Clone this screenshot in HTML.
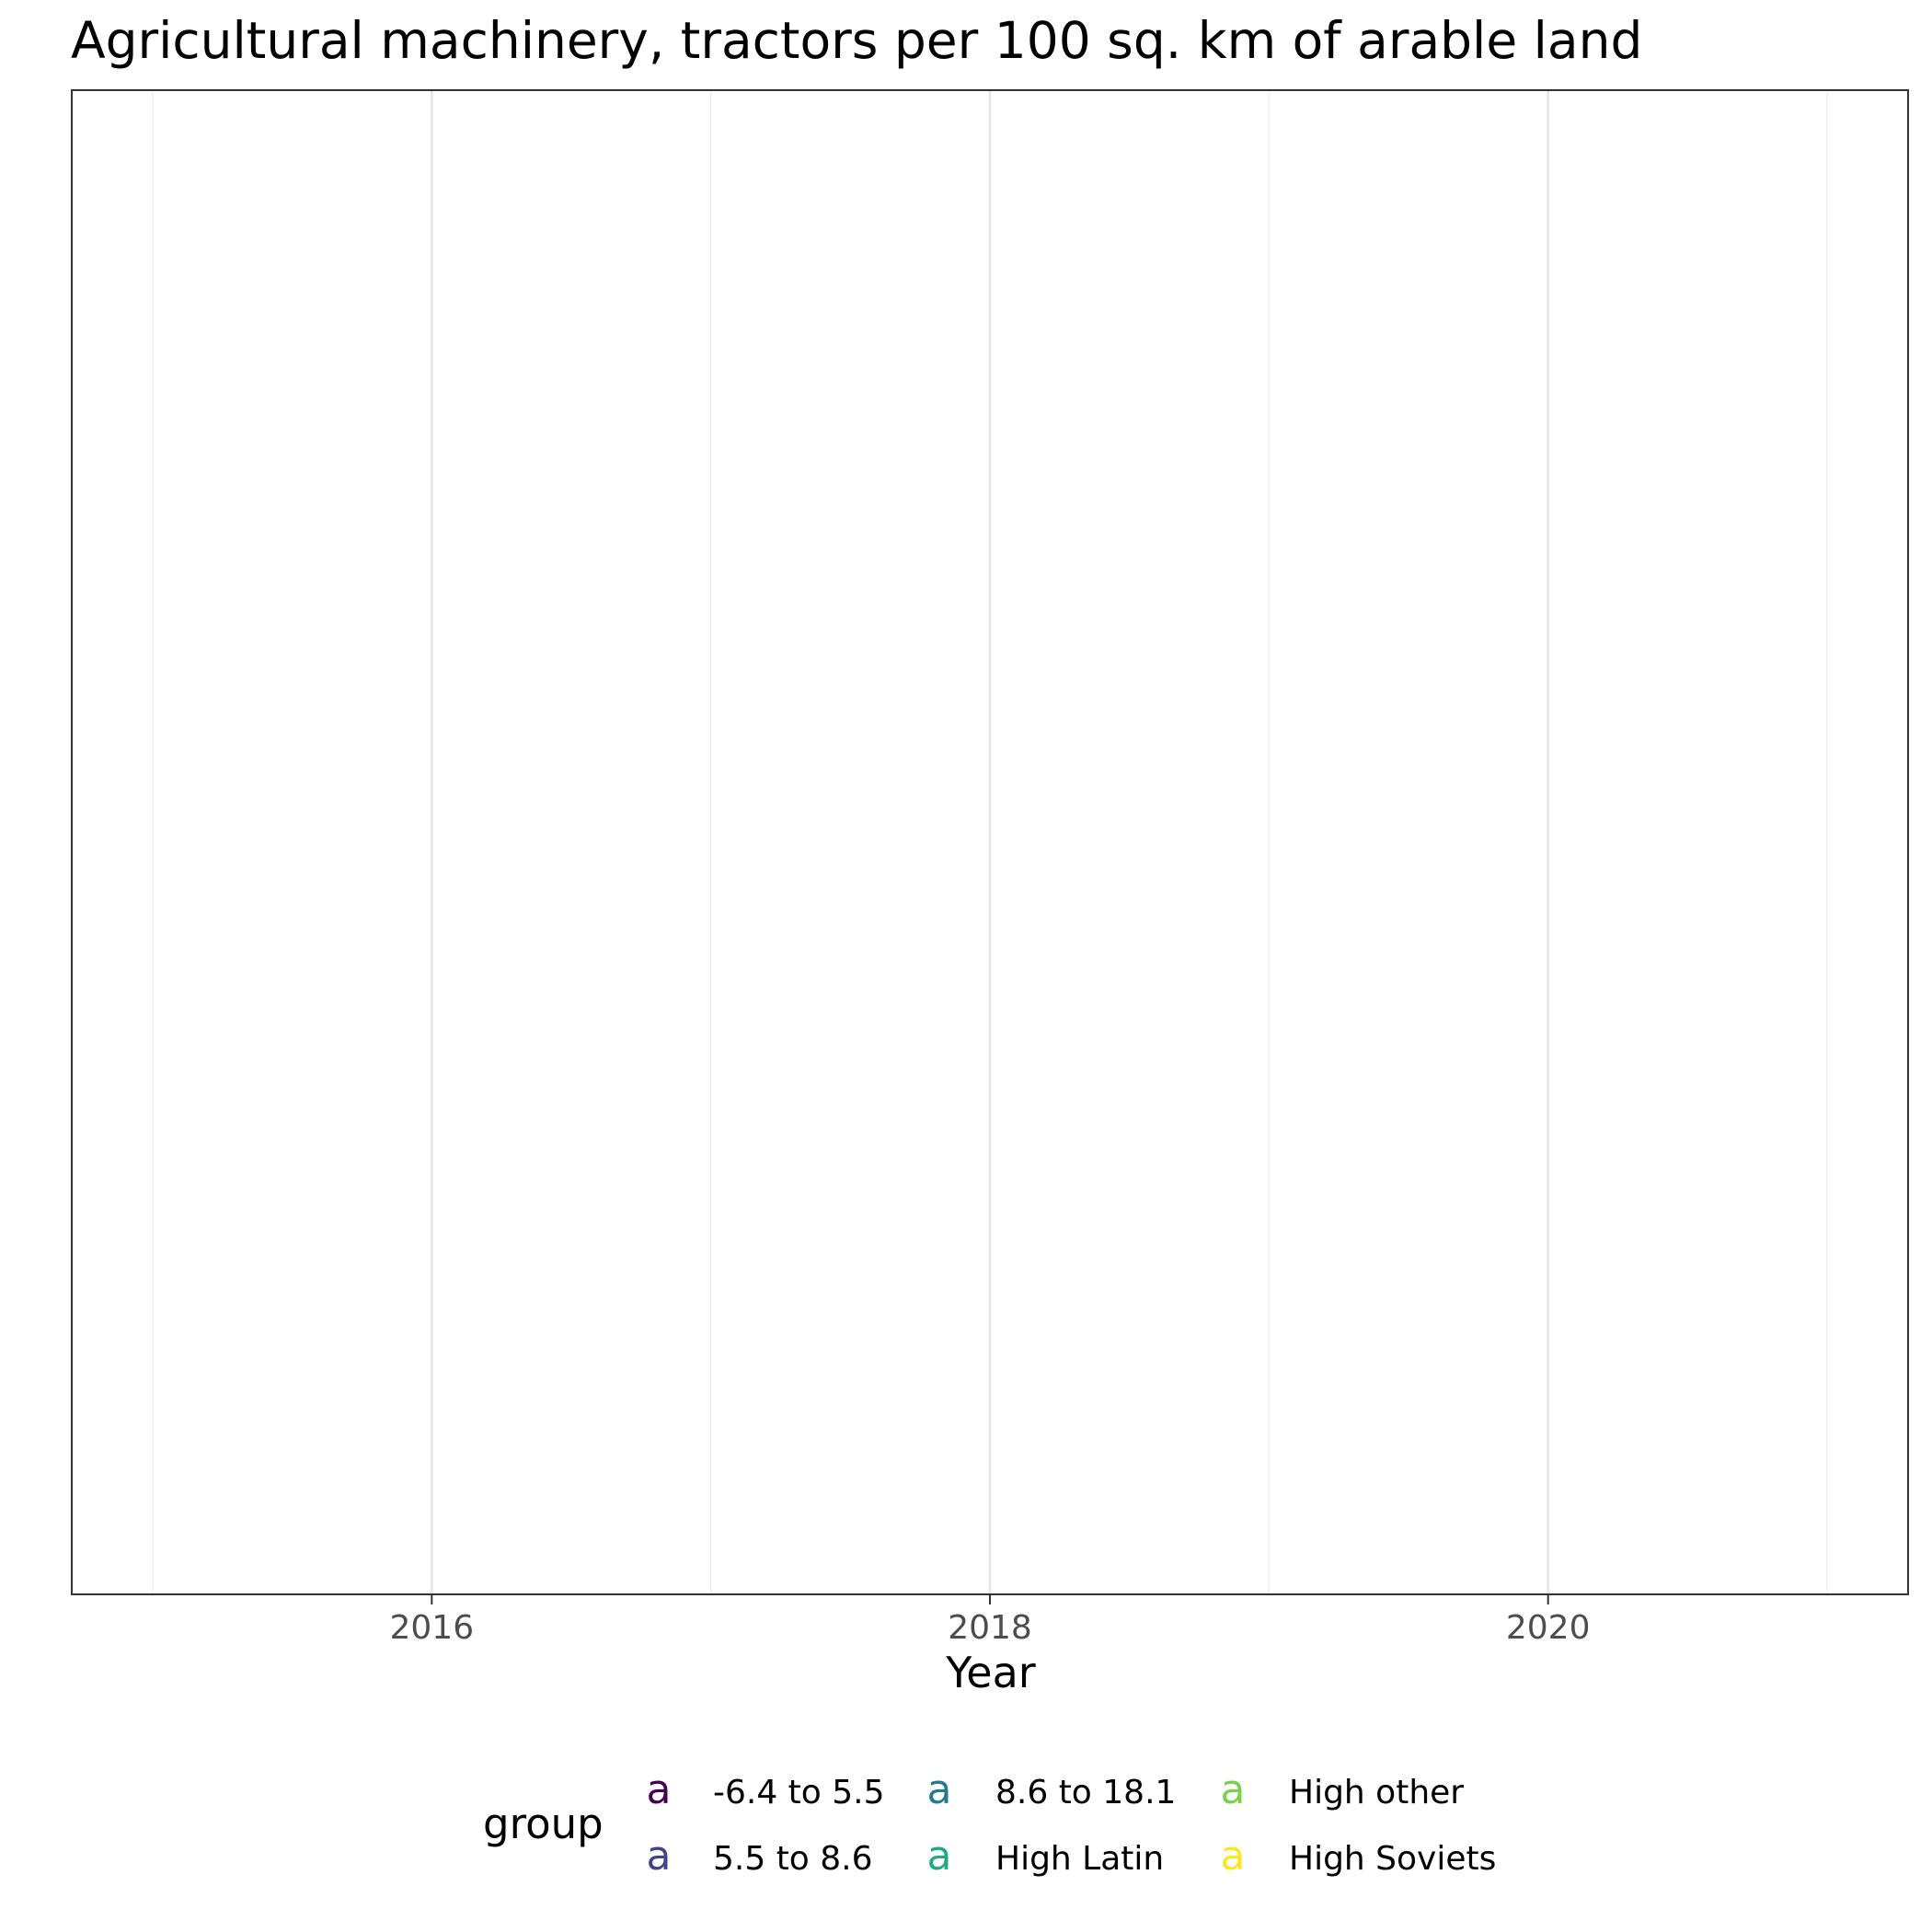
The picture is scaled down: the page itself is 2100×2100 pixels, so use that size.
<!DOCTYPE html>
<html><head><meta charset="utf-8"><style>
html,body{margin:0;padding:0;background:#fff;}
svg{display:block;font-family:"DejaVu Sans","Liberation Sans",sans-serif;}
</style></head><body>
<svg id="chart" width="2100" height="2100">
<text x="77" y="63" font-size="55" fill="#000">Agricultural machinery, tractors per 100 sq. km of arable land</text>
<rect x="78" y="98" width="1996" height="1635" fill="#fff"/>
<g id="grid"></g>
<g id="xaxis"></g>
<rect x="78" y="98" width="1996" height="1635" fill="none" stroke="#333" stroke-width="2"/>
<text x="1077" y="1834" font-size="46" text-anchor="middle" fill="#000">Year</text>
<text x="525" y="1998" font-size="45" fill="#000">group</text>
<g id="legend"></g>
</svg>
<script>
const majorYears = [2016, 2018, 2020];
const minorYears = [2015, 2017, 2019, 2021];
const tickLabels = ["2016", "2018", "2020"];
const groups = ["-6.4 to 5.5", "5.5 to 8.6", "8.6 to 18.1", "High Latin", "High other", "High Soviets"];
const groupColors = ["#440154", "#414487", "#2A788E", "#22A884", "#7AD151", "#FDE725"];

const NS = "http://www.w3.org/2000/svg";
const x0 = 78, x1 = 2074, yTop = 98, yBot = 1733;
const dMin = 2014.71, dMax = 2021.29;
function xScale(v){ return x0 + (v - dMin) / (dMax - dMin) * (x1 - x0); }

const grid = document.getElementById('grid');
minorYears.forEach(y => {
  const l = document.createElementNS(NS, 'line');
  l.setAttribute('x1', xScale(y)); l.setAttribute('x2', xScale(y));
  l.setAttribute('y1', yTop); l.setAttribute('y2', yBot);
  l.setAttribute('stroke', '#f0f0f0'); l.setAttribute('stroke-width', '1.5');
  
  
  grid.appendChild(l);
});
majorYears.forEach(y => {
  const l = document.createElementNS(NS, 'line');
  l.setAttribute('x1', xScale(y)); l.setAttribute('x2', xScale(y));
  l.setAttribute('y1', yTop); l.setAttribute('y2', yBot);
  l.setAttribute('stroke', '#e6e6e6'); l.setAttribute('stroke-width', '2.7');
  
  
  grid.appendChild(l);
});
const xa = document.getElementById('xaxis');
majorYears.forEach((y, i) => {
  const t = document.createElementNS(NS, 'line');
  t.setAttribute('x1', xScale(y)); t.setAttribute('x2', xScale(y));
  t.setAttribute('y1', yBot); t.setAttribute('y2', yBot + 11);
  t.setAttribute('stroke', '#333'); t.setAttribute('stroke-width', '2');
  
  
  xa.appendChild(t);
  const tx = document.createElementNS(NS, 'text');
  tx.setAttribute('x', xScale(y)); tx.setAttribute('y', 1781);
  tx.setAttribute('font-size', '36'); tx.setAttribute('text-anchor', 'middle');
  tx.setAttribute('fill', '#4d4d4d');
  tx.textContent = tickLabels[i];
  
  
  xa.appendChild(tx);
});
const lg = document.getElementById('legend');
const colKeyX = [703, 1008, 1327], colLabX = [775, 1082, 1401], rowY = [1960, 2032];
groups.forEach((g, i) => {
  const c = Math.floor(i / 2), r = i % 2;
  const k = document.createElementNS(NS, 'text');
  k.setAttribute('x', colKeyX[c] + 13); k.setAttribute('y', rowY[r]);
  k.setAttribute('font-size', '44'); k.setAttribute('text-anchor', 'middle');
  k.setAttribute('fill', groupColors[i]);
  k.textContent = 'a';
  
  
  lg.appendChild(k);
  const t = document.createElementNS(NS, 'text');
  t.setAttribute('x', colLabX[c]); t.setAttribute('y', rowY[r]);
  t.setAttribute('font-size', '36'); t.setAttribute('fill', '#000');
  t.textContent = g;
  
  
  lg.appendChild(t);
});
</script>
</body></html>
